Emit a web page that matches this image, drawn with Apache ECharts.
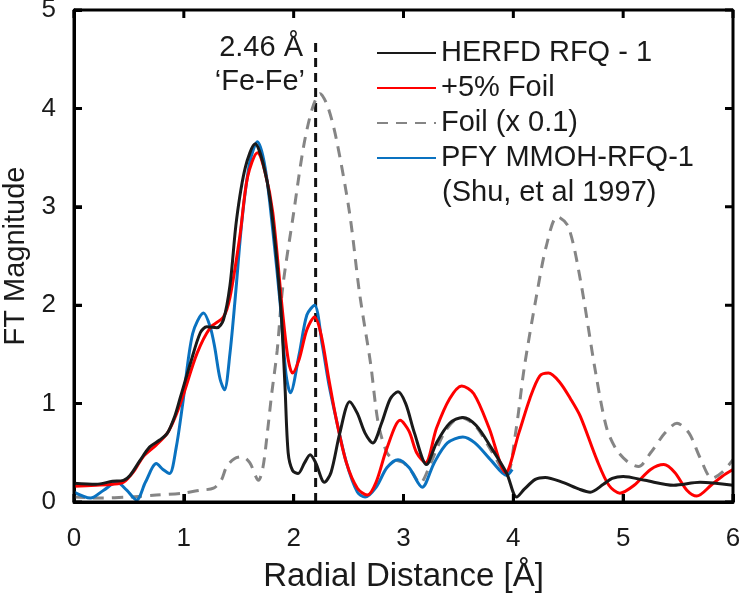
<!DOCTYPE html>
<html><head><meta charset="utf-8">
<script src="https://cdn.jsdelivr.net/npm/echarts@6/dist/echarts.min.js"></script>
<style>html,body{margin:0;padding:0;background:#fff}#c{width:741px;height:600px}</style>
</head><body><div id="c"></div>
<script>
const herfd = [[0,0.19],[0.2,0.18],[0.35,0.21],[0.45,0.22],[0.51,0.27],[0.6,0.42],[0.69,0.56],[0.78,0.63],[0.85,0.70],[0.92,0.88],[0.97,1.07],[1.06,1.41],[1.15,1.72],[1.21,1.78],[1.30,1.77],[1.36,1.85],[1.42,2.2],[1.48,2.87],[1.56,3.4],[1.65,3.64],[1.72,3.45],[1.79,3.04],[1.88,2.02],[1.92,1.2],[1.95,0.5],[1.99,0.32],[2.04,0.29],[2.1,0.4],[2.15,0.48],[2.2,0.4],[2.28,0.2],[2.34,0.3],[2.42,0.7],[2.51,1.02],[2.58,0.9],[2.65,0.7],[2.72,0.6],[2.8,0.8],[2.88,1.05],[2.95,1.12],[3.02,1.0],[3.1,0.7],[3.21,0.38],[3.3,0.6],[3.42,0.8],[3.54,0.86],[3.66,0.78],[3.8,0.55],[3.94,0.29],[4.03,0.05],[4.1,0.13],[4.2,0.23],[4.29,0.25],[4.45,0.2],[4.6,0.13],[4.70,0.1],[4.82,0.18],[4.9,0.24],[5.0,0.26],[5.2,0.22],[5.46,0.17],[5.70,0.2],[6,0.17]];
const plusFoil = [[0,0.16],[0.2,0.17],[0.35,0.18],[0.45,0.2],[0.55,0.32],[0.63,0.46],[0.75,0.58],[0.85,0.70],[0.92,0.86],[0.99,1.07],[1.12,1.51],[1.24,1.77],[1.36,1.88],[1.42,2.08],[1.51,2.70],[1.58,3.3],[1.67,3.55],[1.74,3.35],[1.81,2.94],[1.90,1.92],[1.95,1.45],[1.99,1.31],[2.05,1.45],[2.12,1.75],[2.19,1.88],[2.25,1.7],[2.32,1.25],[2.39,0.83],[2.48,0.4],[2.58,0.14],[2.67,0.07],[2.75,0.2],[2.85,0.55],[2.97,0.83],[3.05,0.72],[3.12,0.5],[3.2,0.40],[3.3,0.75],[3.42,1.05],[3.53,1.18],[3.64,1.1],[3.78,0.75],[3.93,0.30],[4.05,0.7],[4.15,1.05],[4.24,1.28],[4.32,1.31],[4.42,1.22],[4.52,1.05],[4.61,0.87],[4.76,0.43],[4.87,0.17],[4.97,0.09],[5.1,0.17],[5.25,0.33],[5.37,0.38],[5.47,0.3],[5.58,0.12],[5.67,0.06],[5.8,0.17],[5.9,0.26],[6,0.33]];
const foil = [[0,0.05],[0.24,0.04],[0.5,0.05],[0.75,0.07],[0.99,0.09],[1.15,0.12],[1.27,0.14],[1.34,0.22],[1.39,0.36],[1.46,0.44],[1.53,0.46],[1.6,0.4],[1.68,0.22],[1.72,0.35],[1.76,0.70],[1.8,1.1],[1.85,1.54],[1.90,2.18],[2.0,2.94],[2.09,3.61],[2.17,4.0],[2.24,4.15],[2.31,4.02],[2.39,3.68],[2.51,2.93],[2.60,2.12],[2.70,1.41],[2.77,0.80],[2.85,0.5],[2.92,0.43],[3.0,0.4],[3.08,0.3],[3.15,0.19],[3.25,0.4],[3.38,0.72],[3.52,0.86],[3.65,0.78],[3.8,0.52],[3.94,0.28],[4.02,0.7],[4.1,1.37],[4.21,2.09],[4.3,2.6],[4.40,2.90],[4.5,2.8],[4.61,2.26],[4.75,1.31],[4.85,0.75],[4.94,0.53],[5.05,0.4],[5.14,0.36],[5.25,0.5],[5.38,0.7],[5.49,0.80],[5.6,0.7],[5.7,0.45],[5.81,0.24],[5.9,0.3],[6,0.43]];
const pfy = [[0,0.10],[0.15,0.04],[0.27,0.12],[0.39,0.2],[0.48,0.12],[0.57,0.02],[0.65,0.2],[0.75,0.39],[0.81,0.33],[0.87,0.29],[0.93,0.55],[0.99,1.0],[1.08,1.71],[1.18,1.92],[1.24,1.78],[1.28,1.58],[1.33,1.25],[1.37,1.14],[1.42,1.51],[1.47,2.1],[1.53,2.87],[1.6,3.45],[1.67,3.66],[1.74,3.4],[1.81,2.76],[1.88,1.98],[1.93,1.3],[1.97,1.11],[2.05,1.5],[2.12,1.9],[2.19,2.0],[2.26,1.6],[2.32,1.2],[2.39,0.83],[2.48,0.4],[2.58,0.1],[2.65,0.05],[2.75,0.15],[2.85,0.35],[2.95,0.43],[3.05,0.35],[3.17,0.15],[3.28,0.4],[3.4,0.6],[3.54,0.66],[3.65,0.6],[3.8,0.42],[3.94,0.27],[3.99,0.33]];
const feFeLine = [[2.2,0],[2.2,4.67]];
const seriesNames = ['HERFD RFQ - 1','+5% Foil','Foil (x 0.1)','PFY MMOH-RFQ-1'];
const xTicks = [0,1,2,3,4,5,6];
const yTicks = [0,1,2,3,4,5];

const FONT = 'Liberation Sans, Arial, sans-serif';
const AX = 'black';
const TICK_PX = 8;
const chart = echarts.init(document.getElementById('c'));
function axisBase(){
  return {
    type:'value', interval:1,
    axisLine:{show:true,lineStyle:{color:AX,width:3}},
    axisTick:{show:true,inside:true,length:TICK_PX,lineStyle:{color:AX,width:3}}
  };
}
const xMin = xTicks[0], xMax = xTicks[xTicks.length-1];
const yMin = yTicks[0], yMax = yTicks[yTicks.length-1];
chart.setOption({
  animation:false,
  grid:{left:74,right:8,top:10,bottom:98,outerBoundsMode:'none'},
  legend:{
    orient:'vertical', left:371, top:33, itemWidth:59, itemHeight:14, itemGap:5,
    data:seriesNames, itemStyle:{opacity:0},
    textStyle:{fontFamily:FONT,fontSize:29,color:'#1a1a1a',lineHeight:30}
  },
  xAxis:[
    Object.assign(axisBase(), {min:xMin,max:xMax,position:'bottom',
      splitLine:{show:false},
      name:'Radial Distance [Å]',nameLocation:'middle',nameGap:58,
      nameTextStyle:{fontFamily:FONT,fontSize:33,color:'#1a1a1a'},
      axisLabel:{fontFamily:FONT,fontSize:26,color:'#1a1a1a',margin:24}})
  ],
  yAxis:[
    Object.assign(axisBase(), {min:yMin,max:yMax,position:'left',
      splitLine:{show:false},
      name:'FT Magnitude',nameLocation:'middle',nameGap:42,
      nameTextStyle:{fontFamily:FONT,fontSize:29,color:'#1a1a1a'},
      axisLabel:{fontFamily:FONT,fontSize:26,color:'#1a1a1a',margin:18}})
  ],
  series:[
    {name:'Fe-Fe',type:'line',data:feFeLine,symbol:'none',
      lineStyle:{color:'#111',width:3,type:[9,6]}},
    {name:seriesNames[2],type:'line',data:foil,smooth:0.3,symbol:'none',
      lineStyle:{color:'#858585',width:3,type:[11,8]},itemStyle:{color:'#858585'}},
    {name:seriesNames[3],type:'line',data:pfy,smooth:0.3,symbol:'none',
      lineStyle:{color:'#0a72c0',width:3},itemStyle:{color:'#0a72c0'}},
    {name:seriesNames[1],type:'line',data:plusFoil,smooth:0.3,symbol:'none',
      lineStyle:{color:'#ff0000',width:3},itemStyle:{color:'#ff0000'}},
    {name:seriesNames[0],type:'line',data:herfd,smooth:0.3,symbol:'none',
      lineStyle:{color:'#1a1a1a',width:3},itemStyle:{color:'#1a1a1a'}}
  ],
  graphic:[
    {id:'shu',type:'text',left:442,top:178,style:{text:'(Shu, et al 1997)',font:'29px '+FONT,fill:'#1a1a1a'}},
    {id:'ann1',type:'text',right:741-303,top:33,style:{text:'2.46 Å',font:'29px '+FONT,fill:'#1a1a1a',textAlign:'right'}},
    {id:'ann2',type:'text',right:741-305,top:67,style:{text:'‘Fe-Fe’',font:'29px '+FONT,fill:'#1a1a1a',textAlign:'right'}}
  ]
});

// Box frame and mirrored ticks, drawn as line series through the chart's own scales.
const origin = chart.convertToPixel({xAxisIndex:0,yAxisIndex:0},[xMin,yMin]);
const inner = chart.convertFromPixel({xAxisIndex:0,yAxisIndex:0},[origin[0]+TICK_PX, origin[1]-TICK_PX]);
const tickDx = inner[0]-xMin, tickDy = inner[1]-yMin;
const frameData = [[xMin,yMin],[xMax,yMin],[xMax,yMax],[xMin,yMax],[xMin,yMin]];
const tickData = [];
xTicks.forEach(t => {
  tickData.push([t,yMin],[t,yMin+tickDy],'-');
  tickData.push([t,yMax],[t,yMax-tickDy],'-');
});
yTicks.forEach(t => {
  tickData.push([xMin,t],[xMin+tickDx,t],'-');
  tickData.push([xMax,t],[xMax-tickDx,t],'-');
});
chart.setOption({series:[
  {id:'frameBox',name:'frame',type:'line',data:frameData,symbol:'none',clip:false,silent:true,z:10,
    lineStyle:{color:'black',width:3},itemStyle:{color:'black'}},
  {id:'frameTicks',name:'ticks',type:'line',data:tickData,symbol:'none',clip:false,silent:true,z:10,
    connectNulls:false,lineStyle:{color:'black',width:3},itemStyle:{color:'black'}}
]});
</script></body></html>
